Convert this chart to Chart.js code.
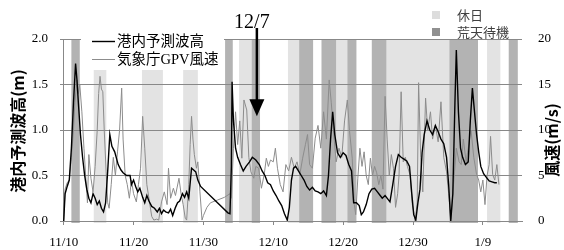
<!DOCTYPE html>
<html>
<head>
<meta charset="utf-8">
<script src="https://cdn.jsdelivr.net/npm/chart.js@4.4.0/dist/chart.umd.min.js"></script>
<style>
  body { margin: 0; background: #fff; }
  #wrap { width: 564px; height: 250px; }
</style>
</head>
<body>
<div id="wrap"><canvas id="myChart" width="564" height="250"></canvas></div>
<script>
// x axis in days from 11/10
const tickDays = [0, 10, 20, 30, 40, 50, 60];
const tickLabels = ['11/10', '11/20', '11/30', '12/10', '12/20', '12/30', '1/9'];

// 休日 / 荒天待機 periods (start, end in days)
const holidayStart = [4.3, 11.2, 17.1, 25.1, 32.1, 39.0, 46.2, 60.6];
const holidayEnd   = [6.1, 14.2, 19.2, 26.9, 33.7, 40.6, 55.2, 62.5];
const stormStart = [1.1, 23.1, 26.9, 33.7, 36.9, 40.6, 44.1, 55.2, 63.7];
const stormEnd   = [2.3, 24.2, 28.1, 35.7, 39.0, 41.9, 46.2, 59.3, 65.0];

// 港内予測波高 (m)
const waveDays = [0, 0.2, 0.5, 0.8, 1.1, 1.4, 1.7, 1.9, 2.1, 2.4, 2.7, 3.0, 3.3, 3.6, 3.9, 4.2, 4.5, 4.8, 5.1, 5.4,
  5.7, 6.0, 6.3, 6.6, 6.9, 7.3, 7.8, 8.2, 8.5, 9.0, 9.5, 9.7, 10.0, 10.3, 10.6, 10.9, 11.3, 11.6, 11.9, 12.2,
  12.6, 13.0, 13.4, 13.7, 14.0, 14.3, 14.6, 15.0, 15.3, 15.6, 16.0, 16.3, 16.6, 17.0, 17.3, 17.6, 17.9, 18.3, 18.6, 18.9,
  19.2, 19.6, 23.5, 23.8, 24.0, 24.1, 24.3, 24.6, 24.9, 25.3, 25.7, 26.1, 26.6, 27.0, 27.5, 28.0, 28.4, 28.8, 29.2, 29.6,
  30.0, 30.4, 30.8, 31.2, 31.6, 32.0, 32.3, 32.6, 32.9, 33.2, 33.6, 34.0, 34.4, 34.8, 35.2, 35.6, 36.0, 36.4, 36.8, 37.2,
  37.6, 37.9, 38.2, 38.5, 38.8, 39.2, 39.6, 40.0, 40.4, 40.8, 41.2, 41.5, 41.9, 42.3, 42.6, 42.9, 43.3, 43.7, 44.1, 44.5,
  44.9, 45.3, 45.6, 46.0, 46.4, 46.7, 47.1, 47.5, 47.9, 48.3, 48.7, 49.1, 49.5, 49.8, 50.1, 50.4, 50.7, 51.0, 51.3, 51.6,
  52.0, 52.4, 52.8, 53.2, 53.6, 54.0, 54.4, 54.8, 55.1, 55.4, 55.7, 56.0, 56.2, 56.5, 56.8, 57.1, 57.5, 57.9, 58.2, 58.5,
  58.8, 59.1, 59.4, 59.7, 60.1, 60.5, 60.9, 61.3, 61.7, 62.0];
const waveHeights = [0.00, 0.30, 0.38, 0.45, 0.80, 1.30, 1.73, 1.55, 1.30, 0.95, 0.70, 0.50, 0.35, 0.25, 0.20, 0.30, 0.25, 0.18, 0.22, 0.14,
  0.10, 0.20, 0.55, 0.95, 0.82, 0.76, 0.62, 0.56, 0.53, 0.50, 0.50, 0.40, 0.45, 0.38, 0.32, 0.36, 0.26, 0.20, 0.28, 0.22,
  0.16, 0.14, 0.10, 0.14, 0.08, 0.12, 0.10, 0.09, 0.13, 0.06, 0.15, 0.20, 0.22, 0.30, 0.26, 0.32, 0.25, 0.58, 0.56, 0.54,
  0.45, 0.38, 0.09, 0.08, 0.60, 1.53, 1.10, 0.80, 0.70, 0.62, 0.55, 0.60, 0.65, 0.70, 0.67, 0.62, 0.55, 0.50, 0.42, 0.40,
  0.33, 0.28, 0.22, 0.17, 0.08, 0.01, 0.15, 0.45, 0.58, 0.60, 0.55, 0.50, 0.45, 0.38, 0.34, 0.37, 0.33, 0.32, 0.30, 0.33,
  0.28, 0.50, 0.90, 1.20, 0.95, 0.75, 0.70, 0.75, 0.72, 0.62, 0.55, 0.20, 0.20, 0.17, 0.07, 0.10, 0.18, 0.30, 0.35, 0.36,
  0.32, 0.28, 0.25, 0.28, 0.24, 0.21, 0.40, 0.60, 0.73, 0.70, 0.68, 0.66, 0.60, 0.32, 0.07, 0.01, 0.20, 0.35, 0.75, 0.95,
  1.10, 1.00, 0.95, 1.05, 0.98, 0.90, 0.85, 0.70, 0.40, 0.00, 0.30, 1.30, 1.88, 1.20, 0.80, 0.70, 0.62, 0.65, 1.10, 1.46,
  1.20, 0.95, 0.76, 0.60, 0.52, 0.48, 0.44, 0.43, 0.42, 0.42];

// 気象庁GPV風速 (m/s)
const windDays = [0, 0.2, 0.5, 0.8, 1.1, 1.4, 1.6, 1.9, 2.1, 2.3, 2.6, 2.9, 3.2, 3.4, 3.6, 3.9, 4.2, 4.5, 4.8, 5.0,
  5.2, 5.4, 5.6, 5.8, 6.1, 6.3, 6.5, 6.8, 7.1, 7.4, 7.7, 8.0, 8.3, 8.5, 8.8, 9.1, 9.4, 9.7, 10.0, 10.4,
  10.7, 11.0, 11.3, 11.6, 11.9, 12.2, 12.6, 12.9, 13.3, 13.6, 14.0, 14.4, 14.8, 15.0, 15.3, 15.7, 16.0, 16.5, 16.8, 17.1,
  17.4, 17.6, 17.9, 18.1, 18.3, 18.5, 18.7, 19.0, 19.2, 19.5, 19.8, 20.0, 20.5, 21.0, 22.0, 23.0, 23.8, 24.0, 24.3, 24.6,
  24.9, 25.2, 25.5, 25.8, 26.2, 26.5, 26.8, 27.2, 27.5, 27.9, 28.3, 28.7, 29.0, 29.3, 29.6, 30.0, 30.3, 30.6, 31.0, 31.4,
  31.8, 32.2, 32.6, 33.0, 33.4, 33.8, 34.2, 34.6, 34.9, 35.2, 35.6, 36.0, 36.4, 36.8, 37.2, 37.6, 38.0, 38.3, 38.6, 39.0,
  39.4, 39.8, 40.2, 40.6, 40.9, 41.3, 41.6, 41.8, 42.1, 42.4, 42.7, 43.0, 43.3, 43.6, 43.9, 44.2, 44.5, 44.8, 45.1, 45.4,
  45.7, 46.0, 46.3, 46.6, 46.9, 47.2, 47.5, 47.8, 48.0, 48.3, 48.6, 48.9, 49.2, 49.6, 49.9, 50.1, 50.3, 50.6, 50.8, 51.1,
  51.4, 51.8, 52.1, 52.5, 52.8, 53.2, 53.6, 54.0, 54.4, 54.8, 55.1, 55.4, 55.8, 56.2, 56.6, 56.9, 57.2, 57.6, 57.9, 58.3,
  58.7, 59.1, 59.4, 59.7, 60.0, 60.3, 60.6, 60.9, 61.1, 61.4, 61.7, 62.0, 62.3];
const windSpeeds = [0, 3.5, 4.2, 4.5, 7, 10, 13, 15.5, 14, 15, 12, 8, 4.3, 2.0, 7.3, 4.7, 3.2, 6, 10, 14,
  15.9, 14.5, 14.2, 10, 5, 2, 1.4, 4, 7, 5, 7.6, 10, 14.6, 9, 5, 4, 2.5, 4.5, 3, 2.1,
  4, 5.8, 11.5, 8, 4, 2.5, 0.5, 0.1, 0.2, 0.1, 2.1, 3.2, 1.8, 5.8, 2.5, 3.6, 2.8, 4.7, 3, 1.8,
  0.3, 0.1, 4, 8.4, 11.5, 9, 7.3, 5.8, 6.5, 3.2, 0.1, 0.6, 1.5, 2.0, 2.3, 2.6, 3.0, 2.5, 8, 12,
  8.4, 11, 6.9, 13.3, 12.2, 7, 5.4, 4.7, 6, 5.8, 3.6, 5.1, 6.9, 6, 6.7, 6.5, 8.0, 5.8, 4.0, 3.2,
  6.2, 5.5, 7.0, 5.8, 6.5, 5.1, 6.9, 8.4, 9.5, 6.2, 5.8, 9.1, 10.5, 8, 12, 9, 15.5, 13, 10, 6.5,
  8, 7, 11, 13.3, 10, 6.9, 1.8, 0.7, 4.7, 8, 6, 7.6, 5, 4.0, 6.9, 5, 6, 5.3, 4, 5,
  3.5, 13.7, 9, 5, 7.3, 5.8, 1.5, 3, 5, 14.2, 6.5, 7, 6, 5, 1.8, 1.0, 0, 2, 15.2, 7,
  3.2, 13.5, 10, 12, 9, 10.5, 8.7, 13.1, 7, 5.4, 3, 0.2, 4, 8, 6.5, 6.2, 9, 6.5, 8, 10,
  7, 5.1, 4.5, 3.2, 4.5, 1.8, 5, 6.2, 9.3, 5.1, 4.5, 6.2, 4];

const markDay = 27.65;
const markLabel = '12/7';
const markHeight = 1.15;

const serif = '"Liberation Serif", "Noto Sans CJK JP", serif';
const cjk = '"Noto Sans CJK JP", sans-serif';

const decor = {
  id: 'decor',
  beforeDraw(chart) {
    const { ctx, chartArea: a, scales: { x } } = chart;
    ctx.save();
    const band = (starts, ends, color) => {
      ctx.fillStyle = color;
      starts.forEach((s, i) => {
        const x0 = x.getPixelForValue(s);
        const x1 = x.getPixelForValue(ends[i]);
        ctx.fillRect(x0, a.top, x1 - x0, a.bottom - a.top + 2);
      });
    };
    band(holidayStart, holidayEnd, '#e3e3e3');
    band(stormStart, stormEnd, '#b3b3b3');
    ctx.restore();
  },
  beforeDatasetsDraw(chart) {
    const { ctx, chartArea: a } = chart;
    // legend box hides the bars behind it
    ctx.save();
    ctx.fillStyle = '#fff';
    ctx.fillRect(81, a.top - 2, 143, 33);
    ctx.restore();
  },
  afterDraw(chart) {
    const { ctx, scales: { x, y } } = chart;
    ctx.save();

    // line legend
    ctx.textBaseline = 'middle';
    ctx.font = '14.5px ' + serif;
    ctx.lineWidth = 1.4;
    ctx.strokeStyle = '#000';
    ctx.beginPath(); ctx.moveTo(92, 41.5); ctx.lineTo(115, 41.5); ctx.stroke();
    ctx.lineWidth = 1;
    ctx.strokeStyle = '#8c8c8c';
    ctx.beginPath(); ctx.moveTo(92, 59.5); ctx.lineTo(115, 59.5); ctx.stroke();
    ctx.fillStyle = '#000';
    ctx.fillText('港内予測波高', 117, 42);
    ctx.fillText('気象庁GPV風速', 117, 60);

    // bar legend
    ctx.fillStyle = '#dddddd';
    ctx.fillRect(432, 11, 8, 8);
    ctx.fillStyle = '#909090';
    ctx.fillRect(432, 28, 8, 8);
    ctx.fillStyle = '#404040';
    ctx.font = '13px ' + cjk;
    ctx.fillText('休日', 457, 15);
    ctx.fillText('荒天待機', 457, 32);

    // axis titles
    ctx.fillStyle = '#000';
    ctx.font = 'bold 16px ' + cjk;
    ctx.textAlign = 'center';
    ctx.save();
    ctx.translate(18, 131);
    ctx.rotate(-Math.PI / 2);
    ctx.fillText('港内予測波高(m)', 0, 0);
    ctx.restore();
    ctx.save();
    ctx.translate(552, 140);
    ctx.rotate(-Math.PI / 2);
    ctx.fillText('風速(m/s)', 0, 0);
    ctx.restore();

    // 12/7 arrow
    const ax = x.getPixelForValue(markDay);
    const tip = y.getPixelForValue(markHeight);
    ctx.strokeStyle = '#000';
    ctx.lineWidth = 2.5;
    ctx.beginPath(); ctx.moveTo(ax, 28); ctx.lineTo(ax, tip - 14); ctx.stroke();
    ctx.beginPath();
    ctx.moveTo(ax - 7.5, tip - 17);
    ctx.lineTo(ax + 7.5, tip - 17);
    ctx.lineTo(ax, tip);
    ctx.closePath();
    ctx.fill();
    ctx.font = '20px ' + serif;
    ctx.textBaseline = 'alphabetic';
    ctx.fillText(markLabel, ax - 5, 28);

    ctx.restore();
  }
};

const toPoints = (xs, ys) => xs.map((v, i) => ({ x: v, y: ys[i] }));

new Chart(document.getElementById('myChart'), {
  type: 'line',
  data: {
    datasets: [{
      label: '港内予測波高',
      data: toPoints(waveDays, waveHeights),
      yAxisID: 'y',
      borderColor: '#000',
      borderWidth: 1.4,
      pointRadius: 0,
      tension: 0
    }, {
      label: '気象庁GPV風速',
      data: toPoints(windDays, windSpeeds),
      yAxisID: 'y1',
      borderColor: '#8c8c8c',
      borderWidth: 1,
      pointRadius: 0,
      tension: 0
    }]
  },
  options: {
    responsive: false,
    animation: false,
    devicePixelRatio: 1,
    layout: { padding: { top: 39, left: 0, right: 0, bottom: 0 } },
    plugins: { legend: { display: false }, tooltip: { enabled: false } },
    scales: {
      x: {
        type: 'linear',
        min: -0.1,
        max: 65.6,
        afterFit: s => { s.height = 29; },
        afterBuildTicks: s => { s.ticks = tickDays.map(v => ({ value: v })); },
        grid: { drawOnChartArea: false, drawTicks: true, tickLength: 4, color: '#888' },
        border: { color: '#888' },
        ticks: {
          color: '#000',
          font: { family: serif, size: 13 },
          padding: 10,
          maxRotation: 0,
          callback: (v) => tickLabels[tickDays.indexOf(v)]
        }
      },
      y: {
        position: 'left',
        min: 0,
        max: 2,
        afterFit: s => { s.width = 63; },
        grid: { color: '#888', tickLength: 3 },
        border: { color: '#888' },
        ticks: {
          stepSize: 0.5,
          color: '#000',
          padding: 12,
          font: { family: serif, size: 13 },
          callback: v => v.toFixed(1)
        }
      },
      y1: {
        position: 'right',
        min: 0,
        max: 20,
        afterFit: s => { s.width = 42; },
        grid: { display: false },
        border: { display: false },
        ticks: {
          stepSize: 5,
          color: '#000',
          padding: 8,
          font: { family: serif, size: 13 }
        }
      }
    }
  },
  plugins: [decor]
});
</script>
</body>
</html>
